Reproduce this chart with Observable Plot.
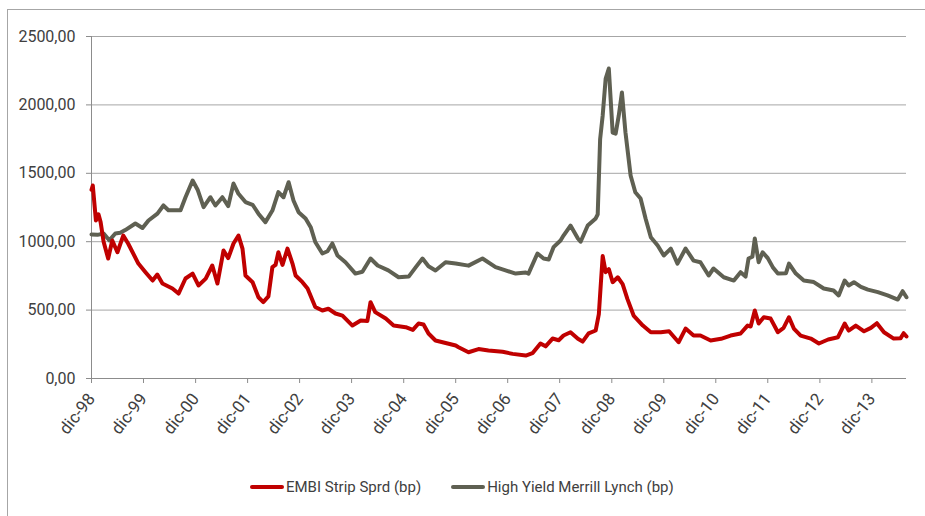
<!DOCTYPE html>
<html>
<head>
<meta charset="utf-8">
<script src="https://cdn.jsdelivr.net/npm/d3@7"></script>
<script src="https://cdn.jsdelivr.net/npm/@observablehq/plot@0.6"></script>
<style>
  html, body { margin: 0; padding: 0; background: #fff; }
  body { width: 925px; height: 516px; position: relative; overflow: hidden; font-family: Roboto, "Open Sans", sans-serif; }
  #frame { position: absolute; left: 7px; top: 9px; width: 940px; height: 520px; border: 1px solid #a6a6a6; box-sizing: border-box; }
  #chart { position: absolute; left: 0; top: 0; }
  #legend { position: absolute; top: 478px; left: 250px; display: flex; align-items: center; font-size: 15px; color: #404040; white-space: nowrap; }
  .item { display: flex; align-items: center; margin-right: 30px; }
  .sw { width: 34px; height: 4px; border-radius: 2px; margin-right: 2px; }
</style>
</head>
<body>
<div id="frame"></div>
<div id="chart"></div>
<div id="legend"></div>
<script>
// ---- Data ----
const seriesNames = ["EMBI Strip Sprd (bp)", "High Yield Merrill Lynch (bp)"];
const seriesColors = ["#c00000", "#5f6052"];

const embiDates = [
  "1998-12-01","1998-12-10","1999-01-01","1999-01-19","1999-02-03","1999-02-24","1999-03-28","1999-04-26",
  "1999-06-01","1999-07-12","1999-08-15","1999-10-26","1999-12-15","2000-02-03","2000-03-07","2000-04-12",
  "2000-06-21","2000-08-03","2000-09-21","2000-11-10","2000-12-21","2001-02-10","2001-03-28","2001-05-03",
  "2001-06-15","2001-07-18","2001-08-24","2001-09-28","2001-10-26","2001-11-16","2002-01-05","2002-02-15",
  "2002-03-21","2002-04-26","2002-05-24","2002-06-15","2002-07-05","2002-08-03","2002-09-07","2002-10-12",
  "2002-11-03","2002-12-21","2003-01-26","2003-03-21","2003-05-10","2003-06-21","2003-08-10","2003-09-28",
  "2003-12-07","2004-02-03","2004-03-21","2004-04-12","2004-05-15","2004-07-28","2004-09-21","2004-12-15",
  "2005-02-03","2005-03-15","2005-04-19","2005-05-24","2005-07-12","2005-09-21","2005-12-01","2005-12-21",
  "2006-03-01","2006-05-10","2006-07-19","2006-10-26","2007-01-05","2007-04-07","2007-05-24","2007-07-19",
  "2007-08-24","2007-10-12","2007-11-24","2007-12-28","2008-02-15","2008-04-07","2008-05-10","2008-06-21",
  "2008-08-10","2008-09-01","2008-09-15","2008-09-28","2008-10-19","2008-11-10","2008-12-07","2009-01-12",
  "2009-02-15","2009-03-21","2009-05-03","2009-07-07","2009-09-01","2009-11-10","2010-01-07","2010-03-15",
  "2010-05-03","2010-06-28","2010-08-15","2010-10-26","2011-01-07","2011-03-15","2011-05-24","2011-07-12",
  "2011-08-03","2011-09-01","2011-09-28","2011-11-03","2011-12-21","2012-02-10","2012-03-21","2012-04-28",
  "2012-06-01","2012-07-19","2012-09-28","2012-11-24","2013-01-28","2013-04-07","2013-05-24","2013-06-21",
  "2013-08-10","2013-10-07","2013-11-24","2014-01-05","2014-02-24","2014-05-03","2014-06-21","2014-07-12",
  "2014-08-01"
];
const embiValues = [
  1380,1411,1155,1200,1143,1000,877,1009,
  923,1045,987,840,777,716,760,694,
  658,621,731,767,680,730,826,694,
  936,880,987,1045,950,753,704,594,
  558,600,814,830,923,830,950,840,
  753,704,658,523,497,510,475,460,
  387,424,420,558,485,438,387,375,
  355,402,395,329,278,260,241,229,
  192,215,205,195,180,168,185,256,
  235,292,280,314,338,290,270,330,
  351,470,694,895,777,800,704,740,
  690,580,460,387,338,338,345,265,
  365,314,314,278,290,314,329,387,
  380,497,402,448,438,338,370,448,
  365,314,292,256,285,302,402,350,
  387,345,370,404,338,292,295,331,
  307
];

const hyDates = [
  "1998-12-01","1999-01-12","1999-02-24","1999-04-05","1999-05-17","1999-06-21","1999-07-26","1999-10-05",
  "1999-11-24","2000-01-05","2000-03-08","2000-04-19","2000-05-24","2000-08-17","2000-09-21","2000-11-10",
  "2000-12-15","2001-01-26","2001-03-15","2001-04-19","2001-06-07","2001-07-18","2001-08-24","2001-09-28",
  "2001-11-16","2002-01-05","2002-02-15","2002-04-05","2002-05-24","2002-07-05","2002-08-10","2002-09-15",
  "2002-10-19","2002-11-24","2003-01-12","2003-02-17","2003-03-21","2003-05-10","2003-06-15","2003-07-19",
  "2003-08-24","2003-10-19","2003-12-28","2004-02-15","2004-04-12","2004-06-01","2004-08-15","2004-10-26",
  "2005-01-05","2005-02-24","2005-04-12","2005-05-24","2005-07-12","2005-09-21","2005-12-01","2006-03-01",
  "2006-06-07","2006-09-07","2006-11-16","2007-01-26","2007-04-07","2007-04-26","2007-06-28","2007-08-10",
  "2007-09-15","2007-10-19","2007-12-07","2007-12-28","2008-02-15","2008-04-07","2008-04-26","2008-06-15",
  "2008-08-10","2008-08-24","2008-09-10","2008-09-28","2008-10-19","2008-11-10","2008-12-07","2008-12-28",
  "2009-01-19","2009-02-10","2009-03-07","2009-04-12","2009-05-15","2009-06-21","2009-07-26","2009-09-01",
  "2009-10-19","2009-12-01","2010-01-19","2010-03-07","2010-05-03","2010-06-28","2010-08-15","2010-10-12",
  "2010-11-15","2011-01-26","2011-04-07","2011-05-24","2011-06-28","2011-07-19","2011-08-15","2011-09-01",
  "2011-09-28","2011-10-26","2011-12-01","2012-01-05","2012-02-10","2012-04-07","2012-04-28","2012-06-15",
  "2012-08-10","2012-10-19","2012-12-28","2013-03-07","2013-04-12","2013-05-24","2013-06-21","2013-07-28",
  "2013-09-15","2013-11-03","2014-01-12","2014-03-21","2014-06-01","2014-07-05","2014-08-01"
];
const hyValues = [
  1053,1050,1060,1010,1060,1065,1085,1133,
  1100,1155,1205,1265,1230,1230,1325,1447,
  1380,1252,1325,1265,1325,1260,1425,1350,
  1290,1270,1205,1143,1228,1362,1325,1435,
  1301,1216,1170,1106,998,914,930,987,
  899,850,767,780,877,826,790,740,
  745,814,877,820,790,850,840,825,
  877,814,790,767,775,767,914,877,
  870,960,1009,1045,1118,1023,1000,1118,
  1170,1200,1750,1923,2193,2266,1798,1790,
  1923,2091,1798,1484,1362,1316,1170,1033,
  972,899,950,840,950,862,850,753,
  804,740,716,777,745,877,890,1023,
  850,923,880,814,767,770,840,767,
  716,705,658,643,607,716,680,704,
  670,650,631,607,577,638,594
];

const yTicks = [0, 500, 1000, 1500, 2000, 2500];
const xTickDates = ["1998-12-01","1999-12-01","2000-12-01","2001-12-01","2002-12-01","2003-12-01","2004-12-01","2005-12-01",
  "2006-12-01","2007-12-01","2008-12-01","2009-12-01","2010-12-01","2011-12-01","2012-12-01","2013-12-01"];
const xTickLabels = ["dic-98","dic-99","dic-00","dic-01","dic-02","dic-03","dic-04","dic-05",
  "dic-06","dic-07","dic-08","dic-09","dic-10","dic-11","dic-12","dic-13"];
const xStart = "1998-12-01";
const xEnd = "2014-08-01";

// ---- Build ----
const embi = embiDates.map((d, i) => ({date: new Date(d), value: embiValues[i]}));
const hy = hyDates.map((d, i) => ({date: new Date(d), value: hyValues[i]}));
const tickDates = xTickDates.map(d => new Date(d));
const labelMap = new Map(tickDates.map((d, i) => [+d, xTickLabels[i]]));
const fmtY = d => d.toFixed(2).replace(".", ",");

const chart = Plot.plot({
  width: 925,
  height: 460,
  marginLeft: 91,
  marginRight: 19,
  marginTop: 36,
  marginBottom: 82,
  style: {fontFamily: "Roboto, 'Open Sans', sans-serif", color: "#404040", background: "transparent"},
  x: {type: "utc", domain: [new Date(xStart), new Date(xEnd)]},
  y: {domain: [0, 2500]},
  marks: [
    Plot.ruleY(yTicks.filter(d => d > 0), {stroke: "#a6a6a6", strokeWidth: 1}),
    Plot.ruleY([0], {stroke: "#8c8c8c", strokeWidth: 1}),
    Plot.ruleX([new Date(xStart)], {y1: 0, y2: 2500, stroke: "#8c8c8c", strokeWidth: 1}),
    Plot.axisY({ticks: yTicks, tickFormat: fmtY, tickSize: 5, tickPadding: 11, fontSize: 16, stroke: "#8c8c8c", label: null}),
    Plot.axisX({ticks: tickDates, tickFormat: d => labelMap.get(+d), tickRotate: -52, tickSize: 5, tickPadding: 12, fontSize: 17, stroke: "#8c8c8c", label: null}),
    Plot.lineY(hy, {x: "date", y: "value", stroke: seriesColors[1], strokeWidth: 4, strokeLinejoin: "round"}),
    Plot.lineY(embi, {x: "date", y: "value", stroke: seriesColors[0], strokeWidth: 4, strokeLinejoin: "round"})
  ]
});
document.getElementById("chart").appendChild(chart);

const legend = document.getElementById("legend");
seriesNames.forEach((name, i) => {
  const item = document.createElement("div");
  item.className = "item";
  const sw = document.createElement("span");
  sw.className = "sw";
  sw.style.background = seriesColors[i];
  const t = document.createElement("span");
  t.textContent = name;
  item.appendChild(sw);
  item.appendChild(t);
  legend.appendChild(item);
});
</script>
</body>
</html>
